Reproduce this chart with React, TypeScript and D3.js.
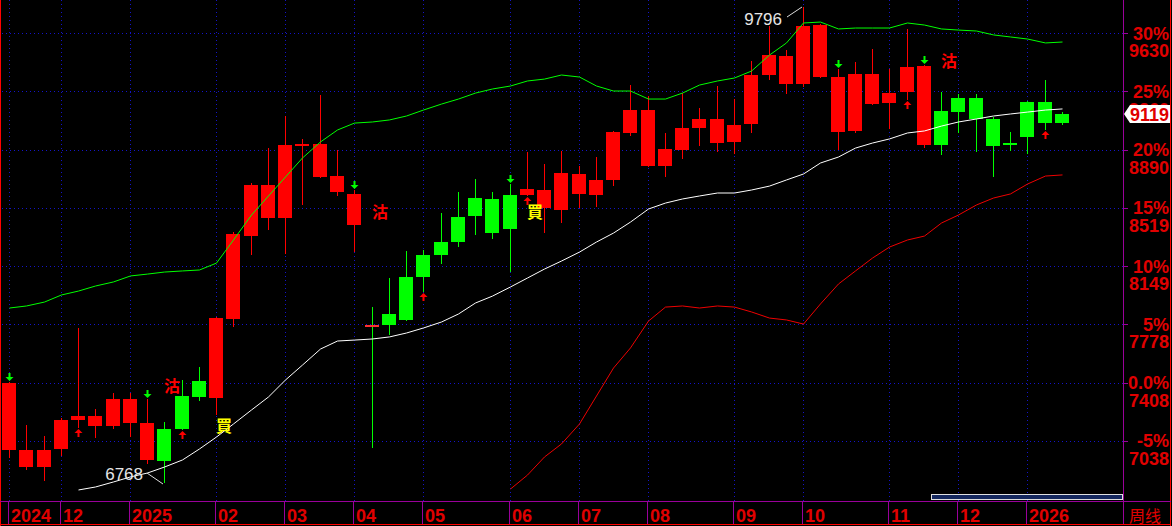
import * as d3 from "d3";

// 周线 K 线 + 布林带
const basePrice = 7408;

const opens = [
  7405, 6978, 6870, 6985, 7169, 7195, 7131, 7303, 7150, 6908,
  7112, 7316, 7309, 7812, 8340, 8665, 8455, 8913, 8926, 8722,
  8608, 7774, 7774, 7806, 8079, 8219, 8302, 8468, 8576, 8385,
  8601, 8633, 8506, 8735, 8601, 8697, 8996, 9142, 8786, 8888,
  9028, 9085, 8939, 9053, 9365, 9486, 9308, 9683, 9352, 9009,
  9371, 9187, 9257, 9422, 8919, 9129, 9219, 9085, 8919, 8970,
  9193, 9059,
];
const closes = [
  6978, 6870, 6978, 7169, 7195, 7131, 7303, 7150, 6915, 7112,
  7322, 7418, 7818, 8353, 8665, 8455, 8919, 8926, 8716, 8620,
  8410, 7766, 7844, 8079, 8219, 8302, 8461, 8582, 8359, 8601,
  8639, 8519, 8741, 8608, 8697, 9002, 9142, 8786, 8894, 9028,
  9085, 8932, 9047, 9365, 9492, 9308, 9677, 9352, 9002, 9371,
  9180, 9250, 9416, 8919, 9136, 9219, 9085, 8913, 8932, 9193,
  9059, 9119,
];
const highs = [
  7410, 7138, 7068, 7184, 7755, 7239, 7341, 7341, 7303, 7157,
  7424, 7507, 7825, 8366, 8678, 8900, 9104, 8958, 9238, 8888,
  8633, 7888, 8073, 8245, 8251, 8487, 8620, 8703, 8620, 8671,
  8875, 8799, 8881, 8786, 8843, 9009, 9301, 9231, 8996, 9250,
  9155, 9295, 9212, 9454, 9677, 9524, 9796, 9690, 9403, 9448,
  9530, 9403, 9658, 9428, 9257, 9244, 9244, 9098, 9002, 9200,
  9333, 9129,
];
const lows = [
  6928, 6851, 6781, 6940, 7118, 7057, 7112, 7061, 6889, 6768,
  7105, 7290, 7201, 7761, 8219, 8379, 8226, 8538, 8710, 8595,
  8238, 6991, 7710, 7800, 7984, 8162, 8270, 8347, 8321, 8111,
  8595, 8359, 8423, 8519, 8525, 8659, 8977, 8780, 8716, 8830,
  8913, 8875, 8862, 8996, 9333, 9244, 9289, 9346, 8888, 8996,
  9174, 9021, 9206, 8900, 8856, 8996, 8875, 8716, 8881, 8862,
  9015, 9047,
];
// r = 红, g = 绿, m = 绿影线红十字
const candleColor = [
  "r", "r", "r", "r", "r", "r", "r", "r", "r", "g",
  "g", "g", "r", "r", "r", "r", "r", "r", "r", "r",
  "r", "m", "g", "g", "g", "g", "g", "g", "g", "g",
  "r", "r", "r", "r", "r", "r", "r", "r", "r", "r",
  "r", "r", "r", "r", "r", "r", "r", "r", "r", "r",
  "r", "r", "r", "r", "g", "g", "g", "g", "g", "g",
  "g", "g",
];

const upperBand = [
  7882, 7895, 7920, 7965, 7990, 8022, 8048, 8086, 8098, 8111,
  8118, 8124, 8168, 8315, 8474, 8595, 8716, 8837, 8939, 9015,
  9059, 9066, 9079, 9104, 9142, 9180, 9212, 9250, 9276, 9295,
  9327, 9339, 9365, 9352, 9295, 9263, 9263, 9212, 9212, 9250,
  9301, 9327, 9346, 9390, 9492, 9569, 9696, 9702, 9658, 9664,
  9664, 9664, 9696, 9683, 9658, 9651, 9645, 9620, 9607, 9594,
  9569, 9575,
];
const midBand = [
  null, null, null, null, 6724, 6743, 6775, 6807, 6832, 6870,
  6915, 6985, 7061, 7144, 7233, 7316, 7424, 7519, 7621, 7672,
  7678, 7685, 7698, 7723, 7755, 7793, 7844, 7914, 7958, 8016,
  8073, 8130, 8181, 8238, 8302, 8359, 8429, 8512, 8550, 8576,
  8595, 8614, 8614, 8633, 8658, 8697, 8735, 8805, 8843, 8900,
  8932, 8958, 8996, 9009, 9040, 9066, 9085, 9104, 9117, 9129,
  9142, 9149,
];
const lowerBand = [
  null, null, null, null, null, null, null, null, null, null,
  null, null, null, null, null, null, null, null, null, null,
  null, null, null, null, null, null, null, null, null, 6730,
  6819, 6934, 7017, 7144, 7322, 7500, 7628, 7799, 7888, 7895,
  7882, 7895, 7888, 7857, 7818, 7806, 7780, 7908, 8035, 8118,
  8200, 8270, 8315, 8340, 8423, 8474, 8538, 8582, 8608, 8671,
  8722, 8729,
];

const sellArrows = [0, 8, 20, 29, 48, 53];
const buyArrows = [4, 10, 24, 30, 52, 60];
const sellTextIdx = [9, 21, 54];
const sellTextPrice = [7386, 8493, 9457];
const buyTextIdx = [12, 30];
const buyTextPrice = [7134, 8496];

const pctTicks = [-5, 0, 5, 10, 15, 20, 25, 30];
const pctLabels = ["-5%", "0.0%", "5%", "10%", "15%", "20%", "25%", "30%"];
const priceLabels = ["7038", "7408", "7778", "8149", "8519", "8890", "9260", "9630"];

const monthIdx = [0, 3, 7, 12, 16, 20, 24, 29, 33, 37, 42, 46, 51, 55, 59];
const monthLabels = ["2024", "12", "2025", "02", "03", "04", "05", "06", "07", "08", "09", "10", "11", "12", "2026"];

const lastPrice = 9119;
const maxIdx = 46;
const minIdx = 9;

const RED = "#ff0000";
const GREEN = "#00ff00";
const AXIS_RED = "#e00000";
const PURPLE = "#9a009a";
const GRID = "#1414c8";
const NUM_FONT = "'Liberation Sans', Arial, sans-serif";
const CJK_FONT = "'Noto Sans CJK TC', 'Noto Sans CJK SC', sans-serif";

export default function App() {
  const width = 1172;
  const height = 526;
  const plotRight = 1123;
  const plotBottom = 501;

  const x = d3.scaleLinear().domain([0, opens.length - 1]).range([9, 1062]);
  const y = d3.scaleLinear().domain([basePrice, basePrice * 1.3]).range([382.5, 33.3]);

  const cx = (i: number) => Math.round(x(i));

  const bandLine = d3
    .line<number | null>()
    .defined((d) => d != null)
    .x((_, i) => cx(i) + 0.5)
    .y((d) => y(d as number));

  const bodyW = 14;

  return (
    <div style={{width, height, background: "#000"}}>
      <style>{`body{margin:0;background:#000}`}</style>
      <svg width={width} height={height} style={{display: "block", background: "#000"}}>
        <defs>
          <clipPath id="plot">
            <rect x={1} y={0} width={plotRight - 1} height={plotBottom} />
          </clipPath>
        </defs>

        {/* 网格 */}
        {pctTicks.map((p) => (
          <line
            key={"h" + p}
            x1={2}
            x2={plotRight}
            y1={Math.round(y(basePrice * (1 + p / 100))) + 0.5}
            y2={Math.round(y(basePrice * (1 + p / 100))) + 0.5}
            stroke={GRID}
            strokeDasharray="1 3"
          />
        ))}
        {monthIdx.map((i) => (
          <line
            key={"v" + i}
            x1={cx(i) + 0.5}
            x2={cx(i) + 0.5}
            y1={0}
            y2={plotBottom}
            stroke={GRID}
            strokeDasharray="1 3"
          />
        ))}

        <g clipPath="url(#plot)">
          {/* K 线 */}
          {opens.map((o, i) => {
            const c = closes[i];
            const col = candleColor[i] === "r" ? RED : GREEN;
            const top = Math.round(y(Math.max(o, c)));
            const bot = Math.round(y(Math.min(o, c)));
            const h = Math.max(2, bot - top);
            const bodyCol = candleColor[i] === "m" ? "#ff3030" : col;
            return (
              <g key={"k" + i}>
                <line
                  x1={cx(i) + 0.5}
                  x2={cx(i) + 0.5}
                  y1={Math.round(y(highs[i]))}
                  y2={Math.round(y(lows[i]))}
                  stroke={col}
                  strokeWidth={1}
                />
                <rect x={cx(i) - 7} y={top} width={bodyW} height={h} fill={bodyCol} />
              </g>
            );
          })}

          {/* 布林带 */}
          <path d={bandLine(upperBand) ?? ""} fill="none" stroke={GREEN} strokeWidth={1} />
          <path d={bandLine(midBand) ?? ""} fill="none" stroke="#ffffff" strokeWidth={1} />
          <path d={bandLine(lowerBand) ?? ""} fill="none" stroke="#ee0000" strokeWidth={1} />

          {/* 信号箭头 */}
          {sellArrows.map((i) => {
            const tip = Math.round(y(highs[i])) - 1;
            const c = cx(i) + 0.5;
            return (
              <path
                key={"s" + i}
                d={`M${c - 1},${tip - 8} L${c + 1},${tip - 8} L${c + 1},${tip - 4} L${c + 4},${tip - 4} L${c},${tip} L${c - 4},${tip - 4} L${c - 1},${tip - 4} Z`}
                fill={GREEN}
              />
            );
          })}
          {buyArrows.map((i) => {
            const tip = Math.round(y(lows[i])) + 1;
            const c = cx(i) + 0.5;
            return (
              <path
                key={"b" + i}
                d={`M${c - 1},${tip + 8} L${c + 1},${tip + 8} L${c + 1},${tip + 4} L${c + 4},${tip + 4} L${c},${tip} L${c - 4},${tip + 4} L${c - 1},${tip + 4} Z`}
                fill={RED}
              />
            );
          })}
          {sellTextIdx.map((i, k) => (
            <text
              key={"st" + i}
              x={cx(i) + 8}
              y={y(sellTextPrice[k]) + 6}
              fill={RED}
              fontFamily={CJK_FONT}
              fontSize={16}
              fontWeight="bold"
              textAnchor="middle"
            >
              沽
            </text>
          ))}
          {buyTextIdx.map((i, k) => (
            <text
              key={"bt" + i}
              x={cx(i) + 8}
              y={y(buyTextPrice[k]) + 6}
              fill="#ffff00"
              fontFamily={CJK_FONT}
              fontSize={16}
              fontWeight="bold"
              textAnchor="middle"
            >
              買
            </text>
          ))}

          {/* 最高 / 最低 标注 */}
          <line
            x1={cx(maxIdx) - 16}
            y1={Math.round(y(highs[maxIdx])) + 10}
            x2={cx(maxIdx) - 1}
            y2={Math.round(y(highs[maxIdx]))}
            stroke="#dddddd"
          />
          <text
            x={cx(maxIdx) - 21}
            y={Math.round(y(highs[maxIdx])) + 18}
            fill="#e6e6e6"
            fontFamily={NUM_FONT}
            fontSize={17}
            textAnchor="end"
          >
            {highs[maxIdx]}
          </text>
          <line
            x1={cx(minIdx) - 17}
            y1={Math.round(y(lows[minIdx])) - 10}
            x2={cx(minIdx) - 1}
            y2={Math.round(y(lows[minIdx])) + 1}
            stroke="#dddddd"
          />
          <text
            x={cx(minIdx) - 21}
            y={Math.round(y(lows[minIdx])) - 3}
            fill="#e6e6e6"
            fontFamily={NUM_FONT}
            fontSize={17}
            textAnchor="end"
          >
            {lows[minIdx]}
          </text>
        </g>

        {/* 滚动条 */}
        <rect x={931.5} y={494.5} width={191} height={5} fill="#14275e" stroke="#e0e0e0" strokeWidth={1} />

        {/* 边框 */}
        <line x1={0.5} x2={0.5} y1={0} y2={height} stroke={RED} />
        <line x1={1170.5} x2={1170.5} y1={0} y2={height} stroke={RED} />
        <line x1={plotRight + 0.5} x2={plotRight + 0.5} y1={0} y2={height - 2} stroke={PURPLE} />
        <line x1={0} x2={1171} y1={plotBottom + 0.5} y2={plotBottom + 0.5} stroke={PURPLE} />
        <line x1={0} x2={1171} y1={524.5} y2={524.5} stroke={RED} />

        {/* 右侧坐标 */}
        {pctTicks.map((p, k) => {
          const gy = y(basePrice * (1 + p / 100));
          return (
            <g key={"ax" + p}>
              <line x1={plotRight} x2={plotRight + 5} y1={Math.round(gy) + 0.5} y2={Math.round(gy) + 0.5} stroke={PURPLE} />
              <text
                x={1169}
                y={gy + 6.5}
                fill={AXIS_RED}
                fontFamily={NUM_FONT}
                fontWeight="bold"
                fontSize={18}
                textAnchor="end"
              >
                {pctLabels[k]}
              </text>
              <text
                x={1169}
                y={gy + 24}
                fill={AXIS_RED}
                fontFamily={NUM_FONT}
                fontWeight="bold"
                fontSize={18}
                textAnchor="end"
              >
                {priceLabels[k]}
              </text>
            </g>
          );
        })}

        {/* 现价标签 */}
        {(() => {
          const ly = Math.round(y(lastPrice));
          return (
            <g>
              <path
                d={`M${plotRight + 1},${ly} L${plotRight + 7},${ly - 9} L1170,${ly - 9} L1170,${ly + 9} L${plotRight + 7},${ly + 9} Z`}
                fill="#ffffff"
              />
              <text
                x={1169}
                y={ly + 7}
                fill={AXIS_RED}
                fontFamily={NUM_FONT}
                fontWeight="bold"
                fontSize={18}
                textAnchor="end"
              >
                {lastPrice}
              </text>
            </g>
          );
        })()}

        {/* 时间轴 */}
        {monthIdx.map((i, k) => (
          <g key={"m" + i}>
            <line x1={cx(i) - 0.5} x2={cx(i) - 0.5} y1={plotBottom} y2={524} stroke={PURPLE} />
            <text
              x={cx(i) + 2}
              y={522}
              fill={AXIS_RED}
              fontFamily={NUM_FONT}
              fontWeight="bold"
              fontSize={18}
            >
              {monthLabels[k]}
            </text>
          </g>
        ))}
        <text x={1129} y={522} fill={AXIS_RED} fontFamily={CJK_FONT} fontSize={16}>
          周线
        </text>
      </svg>
    </div>
  );
}
